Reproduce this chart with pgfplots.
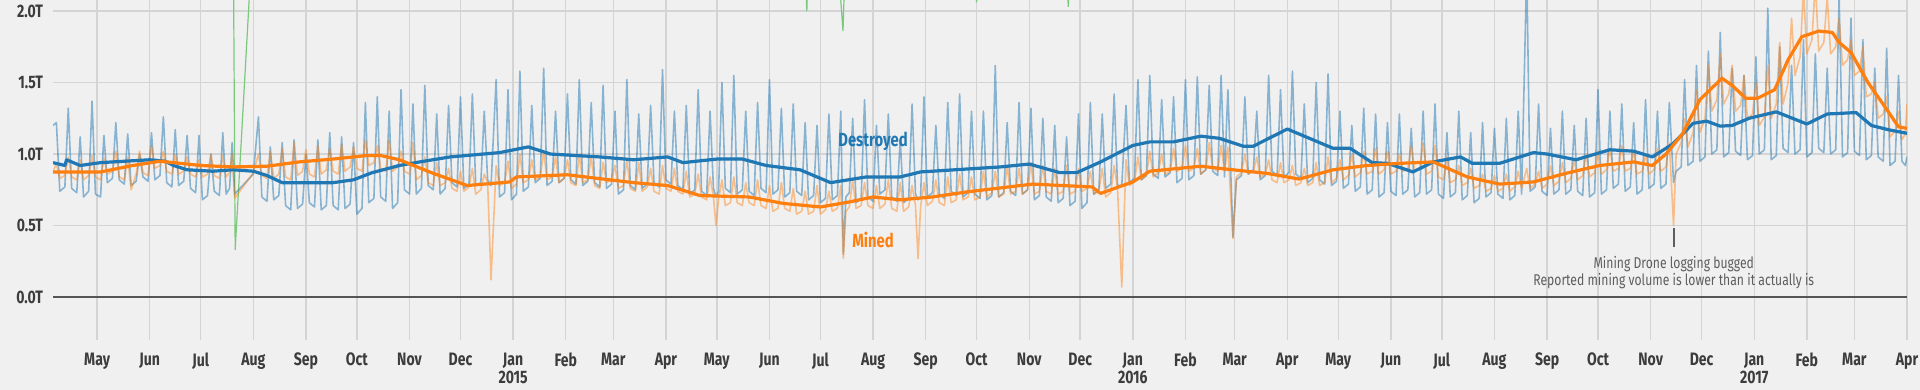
\documentclass[border=0pt]{standalone}
\usepackage{fontspec}
\setmainfont{Fira Sans}[FakeStretch=0.78]
\usepackage{pgfplots}
\pgfplotsset{compat=1.18}
\usepackage{pgfplotstable}
\definecolor{bg}{HTML}{F0F0F0}
\definecolor{gridc}{HTML}{D4D4D4}
\definecolor{dblue}{HTML}{1F77B4}
\definecolor{dorange}{HTML}{FF7F0E}
\definecolor{dgreen}{HTML}{7CC87C}
\definecolor{tickc}{HTML}{3C3C3C}
\definecolor{notec}{HTML}{5E5E5E}
\definecolor{zeroc}{HTML}{555555}

% daily raw values (approx.): day since 2014-01-01, destroyed, mined
\pgfplotstableread{
d b o
94 1.20 0.88
96 1.22 0.93
98 0.74 0.83
101 0.77 0.85
103 1.32 0.98
105 0.76 0.84
108 0.73 0.82
110 1.12 0.96
112 0.70 0.82
115 0.74 0.85
117 1.37 0.99
119 0.72 0.84
122 0.70 0.82
124 1.13 0.97
126 0.80 0.86
129 0.83 0.88
131 1.22 1.02
133 0.82 0.84
136 0.79 0.82
138 1.14 0.98
140 0.78 0.75
143 0.81 0.86
145 1.00 1.02
147 0.84 0.87
150 0.81 0.85
152 1.15 1.06
154 0.82 0.90
157 0.85 0.92
159 1.26 1.02
161 0.80 0.88
164 0.77 0.86
166 1.17 1.00
168 0.78 0.86
171 0.81 0.88
173 1.13 0.98
175 0.76 0.86
178 0.73 0.84
180 1.13 0.96
182 0.68 0.84
185 0.71 0.86
187 1.00 1.00
189 0.74 0.85
192 0.71 0.83
194 1.15 0.99
196 0.72 0.84
198 0.76 0.87
199.5 1.08 1.00
201 0.72 0.69
212 0.86 0.87
215 1.26 1.00
217 0.70 0.85
220 0.67 0.83
222 1.05 1.02
224 0.68 0.83
227 0.71 0.86
229 1.08 1.04
231 0.64 0.84
234 0.61 0.82
236 1.10 1.08
238 0.62 0.85
241 0.65 0.88
243 1.00 1.03
245 0.66 0.86
248 0.63 0.84
250 1.10 1.06
252 0.61 0.86
255 0.64 0.89
257 1.15 1.04
259 0.64 0.88
262 0.61 0.86
264 1.12 1.07
266 0.62 0.88
269 0.65 0.91
271 1.08 1.05
273 0.58 0.90
276 0.62 0.88
278 1.36 1.10
280 0.66 0.92
283 0.69 0.94
285 1.40 1.06
287 0.70 0.90
290 0.67 0.88
292 1.30 1.10
294 0.62 0.88
297 0.66 0.91
299 1.45 1.02
301 0.75 0.88
304 0.72 0.86
306 1.35 1.08
308 0.72 0.82
311 0.76 0.85
313 1.48 0.98
315 0.78 0.80
318 0.75 0.78
320 1.28 0.94
322 0.72 0.78
325 0.76 0.80
327 1.34 0.90
329 0.80 0.76
332 0.77 0.74
334 1.40 0.88
336 0.76 0.74
339 0.79 0.77
341 1.42 0.90
343 0.78 0.72
346 0.80 0.75
348 1.30 0.86
350 0.82 0.80
352 0.78 0.12
355 1.52 0.92
357 0.70 0.78
360 0.73 0.80
362 1.45 0.95
364 0.68 0.76
367 0.72 0.79
369 1.58 1.00
371 0.74 0.80
374 0.77 0.82
376 1.34 0.96
378 0.80 0.82
381 0.83 0.84
383 1.60 1.02
385 0.78 0.82
388 0.81 0.84
390 1.30 0.98
392 0.80 0.80
395 0.83 0.83
397 1.42 0.96
399 0.82 0.80
402 0.79 0.78
404 1.52 1.00
406 0.78 0.80
409 0.81 0.82
411 1.36 0.98
413 0.80 0.78
416 0.77 0.76
418 1.48 0.94
420 0.76 0.80
423 0.79 0.82
425 1.30 0.92
427 0.72 0.76
430 0.75 0.78
432 1.52 0.96
434 0.78 0.76
437 0.75 0.74
439 1.28 0.94
441 0.76 0.74
444 0.79 0.77
446 1.34 0.90
448 0.80 0.74
451 0.77 0.72
453 1.59 0.92
455 0.82 0.76
458 0.79 0.74
460 1.30 0.90
462 0.78 0.74
465 0.75 0.72
467 1.34 0.88
469 0.72 0.70
472 0.75 0.72
474 1.45 0.86
476 0.74 0.70
479 0.71 0.68
481 1.30 0.84
483 0.76 0.70
484.5 0.70 0.50
486 0.74 0.68
488 1.50 0.82
490 0.76 0.64
493 0.73 0.66
495 1.55 0.84
497 0.72 0.66
500 0.75 0.64
502 1.30 0.80
504 0.74 0.66
507 0.71 0.64
509 1.36 0.82
511 0.76 0.64
514 0.73 0.62
516 1.52 0.78
518 0.72 0.60
521 0.75 0.62
523 1.32 0.80
525 0.70 0.62
528 0.73 0.60
530 1.35 0.76
532 0.74 0.58
535 0.71 0.60
537 1.22 0.74
539 0.68 0.58
542 0.71 0.60
544 1.20 0.78
546 0.66 0.58
549 0.69 0.61
551 1.28 0.74
553 0.68 0.60
556 0.71 0.62
558 1.30 0.78
559.5 0.30 0.27
561 0.70 0.60
563 0.73 0.63
565 1.25 0.82
567 0.66 0.62
570 0.69 0.64
572 1.38 0.80
574 0.70 0.64
577 0.67 0.62
579 1.20 0.78
581 0.72 0.62
584 0.75 0.65
586 1.28 0.82
588 0.70 0.62
591 0.67 0.60
593 1.10 0.80
595 0.66 0.60
598 0.69 0.63
600 1.35 0.78
602 0.72 0.64
603.5 0.68 0.27
605 0.70 0.63
607 1.40 0.80
609 0.70 0.64
612 0.73 0.67
614 1.20 0.82
616 0.72 0.66
619 0.69 0.64
621 1.36 0.84
623 0.74 0.66
626 0.71 0.68
628 1.42 0.86
630 0.70 0.68
633 0.73 0.70
635 1.30 0.84
637 0.72 0.68
640 0.69 0.70
642 1.30 0.88
644 0.68 0.70
647 0.71 0.73
649 1.62 0.88
651 0.70 0.70
654 0.73 0.72
656 1.22 0.92
658 0.74 0.72
661 0.71 0.74
663 1.36 0.90
665 0.72 0.72
668 0.75 0.75
670 1.32 0.94
672 0.68 0.72
675 0.71 0.74
677 1.25 0.92
679 0.70 0.74
682 0.67 0.72
684 1.20 0.90
686 0.66 0.72
689 0.69 0.74
691 1.12 0.92
693 0.64 0.72
696 0.67 0.74
698 1.28 0.90
700 0.62 0.74
703 0.66 0.76
705 1.36 0.88
707 0.72 0.72
710 0.75 0.74
712 1.28 0.90
714 0.76 0.70
717 0.79 0.73
719 1.42 0.92
721 0.78 0.76
723.5 0.78 0.07
726 1.34 0.96
728 0.80 0.78
731 0.83 0.81
733 1.52 0.98
735 0.82 0.82
738 0.85 0.85
740 1.55 1.02
742 0.86 0.84
745 0.83 0.87
747 1.38 1.00
749 0.84 0.86
752 0.87 0.88
754 1.40 1.04
756 0.80 0.88
759 0.83 0.90
761 1.52 1.06
763 0.82 0.88
766 0.85 0.90
768 1.54 1.04
770 0.86 0.86
773 0.89 0.89
775 1.48 1.08
777 0.88 0.90
780 0.85 0.88
782 1.55 1.06
784 0.84 0.88
786 1.45 1.05
789 0.42 0.41
791 0.82 0.84
794 0.85 0.87
796 1.40 1.00
798 0.86 0.86
801 0.89 0.88
803 1.30 0.98
805 0.82 0.84
808 0.85 0.86
810 1.55 0.96
812 0.88 0.82
815 0.85 0.80
817 1.45 0.94
819 0.84 0.80
822 0.87 0.82
824 1.58 0.92
826 0.86 0.78
829 0.83 0.80
831 1.35 0.90
833 0.80 0.78
836 0.83 0.80
838 1.50 0.94
840 0.82 0.78
843 0.79 0.80
845 1.56 0.98
847 0.78 0.80
850 0.81 0.83
852 1.30 0.96
854 0.76 0.82
857 0.79 0.85
859 1.20 1.00
861 0.74 0.84
864 0.77 0.87
866 1.32 1.02
868 0.72 0.86
871 0.75 0.88
873 1.28 1.04
875 0.70 0.86
878 0.73 0.89
880 1.22 1.02
882 0.74 0.86
885 0.71 0.88
887 1.28 1.00
889 0.72 0.88
892 0.75 0.90
894 1.18 1.06
896 0.70 0.88
899 0.73 0.90
901 1.30 1.08
903 0.72 0.86
906 0.75 0.88
908 1.35 1.06
910 0.72 0.84
913 0.69 0.82
915 1.15 0.98
917 0.70 0.80
920 0.73 0.82
922 1.30 0.92
924 0.68 0.78
927 0.71 0.80
929 1.15 0.90
931 0.66 0.76
934 0.69 0.78
936 1.22 0.86
938 0.70 0.74
941 0.73 0.76
943 1.18 0.85
945 0.72 0.74
948 0.69 0.76
950 1.25 0.86
952 0.68 0.74
955 0.71 0.77
957 1.30 0.88
959 0.72 0.76
962 2.30 0.90
964 0.74 0.76
967 0.77 0.79
969 1.35 0.88
971 0.74 0.76
974 0.71 0.79
976 1.18 0.92
978 0.72 0.78
981 0.75 0.81
983 1.30 0.94
985 0.72 0.80
988 0.75 0.83
990 1.20 0.96
992 0.74 0.82
995 0.71 0.85
997 1.25 1.00
999 0.70 0.84
1002 0.73 0.87
1004 1.45 1.02
1006 0.72 0.86
1009 0.75 0.89
1011 1.30 1.04
1013 0.76 0.88
1016 0.79 0.90
1018 1.35 1.06
1020 0.74 0.88
1023 0.77 0.90
1025 1.22 1.02
1027 0.72 0.86
1030 0.75 0.88
1032 1.38 1.00
1034 0.76 0.86
1037 0.79 0.89
1039 1.30 1.04
1041 0.76 0.88
1044 0.79 0.91
1046 1.36 1.08
1048.5 0.80 0.50
1050 0.88 1.00
1053 0.91 1.08
1055 1.52 1.25
1057 0.92 1.05
1060 0.95 1.15
1062 1.62 1.45
1064 0.95 1.15
1067 0.98 1.25
1069 1.72 1.62
1071 1.00 1.30
1074 1.03 1.38
1076 1.85 1.70
1078 0.98 1.35
1081 1.01 1.42
1083 1.60 1.62
1085 1.02 1.30
1088 0.99 1.34
1090 1.55 1.55
1092 0.96 1.25
1095 0.99 1.28
1097 1.68 1.50
1099 1.00 1.20
1102 1.03 1.26
1104 2.02 1.62
1106 0.96 1.25
1109 0.99 1.35
1111 1.75 1.78
1113 1.04 1.35
1116 1.01 1.50
1118 1.62 1.95
1120 1.00 1.55
1123 1.03 1.68
1125 1.80 2.15
1127 0.98 1.70
1130 1.01 1.80
1132 1.70 2.20
1134 1.04 1.72
1137 1.01 1.78
1139 1.60 2.10
1141 1.00 1.70
1144 1.03 1.75
1146 2.10 1.95
1148 0.98 1.62
1151 1.01 1.66
1153 1.95 1.80
1155 1.02 1.55
1158 0.99 1.58
1160 1.80 1.75
1162 0.96 1.40
1165 0.99 1.42
1167 1.60 1.50
1169 0.98 1.25
1172 0.95 1.28
1174 1.74 1.40
1176 0.92 1.12
1179 0.95 1.16
1181 1.55 1.30
1183 0.95 1.10
1185 0.92 1.14
1186 0.98 1.35
}\rawdata

% moving average, destroyed
\pgfplotstableread{
d v
94 0.94
101 0.92
102 0.96
110 0.92
122 0.94
151 0.96
160 0.95
165 0.92
173 0.89
188 0.88
200 0.89
212 0.88
220 0.85
229 0.80
259 0.80
271 0.82
282 0.87
298 0.92
310 0.945
328 0.98
357 1.01
374 1.05
387 1.00
416 0.98
436 0.96
456 0.98
465 0.94
485 0.965
500 0.965
514 0.92
534 0.89
552 0.80
573 0.84
593 0.84
605 0.875
652 0.91
669 0.93
687 0.87
697 0.87
711 0.945
730 1.06
740 1.085
754 1.085
770 1.125
781 1.11
795 1.055
801 1.055
821 1.175
848 1.04
858 1.04
871 0.94
880 0.935
895 0.875
907 0.945
923 0.98
930 0.935
946 0.935
966 1.01
974 1.00
991 0.96
1011 1.03
1025 1.02
1036 0.98
1048 1.07
1060 1.215
1068 1.23
1076 1.195
1083 1.20
1093 1.25
1109 1.295
1127 1.21
1139 1.28
1156 1.29
1165 1.20
1175 1.17
1186 1.145
}\mab

% moving average, mined
\pgfplotstableread{
d v
94 0.875
122 0.875
141 0.92
157 0.95
181 0.92
200 0.91
220 0.915
239 0.945
259 0.965
279 0.99
287 0.99
298 0.96
318 0.865
338 0.78
363 0.805
367 0.84
397 0.855
436 0.80
456 0.78
475 0.71
504 0.70
524 0.655
546 0.63
563 0.665
577 0.70
593 0.68
612 0.70
632 0.735
671 0.79
706 0.77
711 0.725
730 0.805
740 0.88
770 0.915
789 0.89
809 0.865
828 0.825
848 0.89
868 0.92
887 0.935
907 0.945
927 0.84
946 0.79
966 0.805
985 0.865
1005 0.92
1025 0.945
1036 0.92
1044 1.00
1054 1.145
1064 1.38
1077 1.53
1083 1.48
1091 1.39
1098 1.39
1108 1.45
1116 1.66
1124 1.82
1134 1.86
1142 1.85
1146 1.78
1153 1.71
1163 1.50
1173 1.33
1181 1.19
1186 1.18
}\mao

% third series (mostly far above the visible range)
\pgfplotstableread{
d v
94 4.0
199 3.6
200.2 2.5
201.3 0.33
212 2.6
240 4.5
536 2.6
538 2.0
539.5 2.6
556 2.4
559.3 1.86
561 2.5
636 2.3
638 2.06
640 2.3
690 2.5
692 2.03
694 2.5
800 4.0
1186 4.0
}\greendata

\begin{document}
\begin{tikzpicture}
\useasboundingbox (-26.5pt,-25pt) rectangle (933.5pt,170pt);
\fill[bg] (-26.5pt,-25pt) rectangle (933.5pt,170pt);
\begin{axis}[
  at={(0,0)}, anchor=south west,
  scale only axis, width=927pt, height=170pt,
  xmin=94, xmax=1186, ymin=-0.3, ymax=2.077,
  axis line style={draw=none},
  major tick length=0pt,
  tick style={draw=none},
  grid=major,
  major grid style={draw=gridc, line width=0.7pt},
  xtick={120,151,181,212,243,273,304,334,365,396,424,455,485,516,546,577,608,638,669,699,730,761,790,821,851,882,912,943,974,1004,1035,1065,1096,1127,1155,1186},
  xticklabels={May,Jun,Jul,Aug,Sep,Oct,Nov,Dec,{Jan\\2015},Feb,Mar,Apr,May,Jun,Jul,Aug,Sep,Oct,Nov,Dec,{Jan\\2016},Feb,Mar,Apr,May,Jun,Jul,Aug,Sep,Oct,Nov,Dec,{Jan\\2017},Feb,Mar,Apr},
  xticklabel style={align=center, text=tickc, font=\fontsize{9}{8.8}\selectfont\bfseries, yshift=-3pt},
  ytick={0,0.5,1,1.5,2},
  yticklabels={0.0T,0.5T,1.0T,1.5T,2.0T},
  yticklabel style={text=tickc, font=\fontsize{9}{9}\selectfont\bfseries, xshift=-1.5pt},
  clip=true,
]
\addplot[dgreen, line width=0.6pt] table[x=d,y=v] {\greendata};
\addplot[dblue, draw opacity=0.5, line width=0.8pt, line join=round] table[x=d,y=b] {\rawdata};
\addplot[dorange, draw opacity=0.45, line width=0.8pt, line join=round] table[x=d,y=o] {\rawdata};
\addplot[dblue, line width=1.6pt, line join=round] table[x=d,y=v] {\mab};
\addplot[dorange, line width=1.6pt, line join=round] table[x=d,y=v] {\mao};
\draw[zeroc, line width=1.2pt] (axis cs:94,0) -- (axis cs:1186,0);
\node[text=dblue, font=\fontsize{9.5}{9.5}\selectfont\bfseries] at (axis cs:577,1.09) {Destroyed};
\node[text=dorange, font=\fontsize{9.5}{9.5}\selectfont\bfseries] at (axis cs:577,0.40) {Mined};
\draw[notec, line width=0.8pt] (axis cs:1048.6,0.48) -- (axis cs:1048.6,0.35);
\node[text=notec, align=center, anchor=north, font=\fontsize{7.8}{6.7}\selectfont] at (axis cs:1048.6,0.335) {Mining Drone logging bugged\\Reported mining volume is lower than it actually is};
\end{axis}
\end{tikzpicture}
\end{document}
